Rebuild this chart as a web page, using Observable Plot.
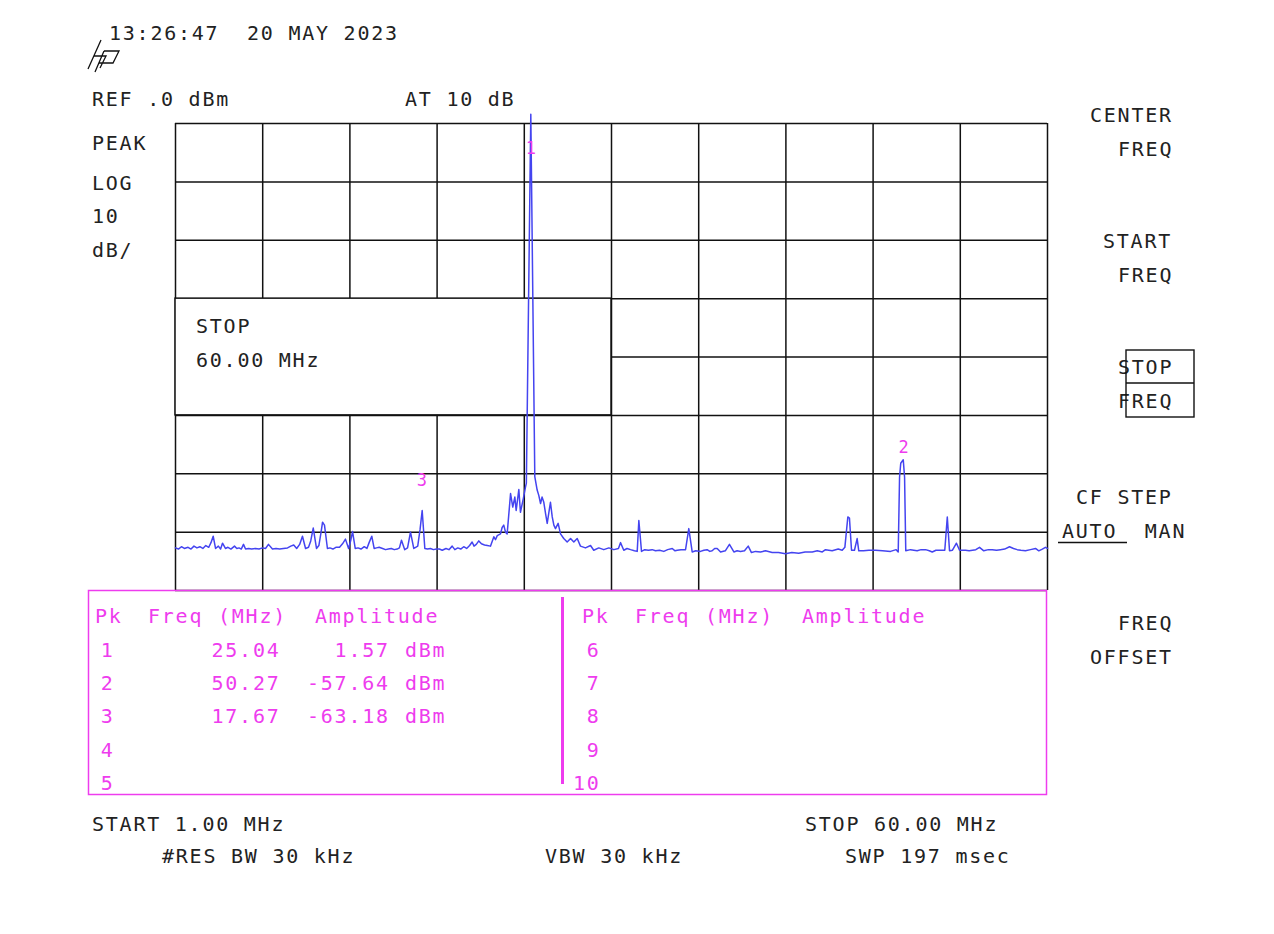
<!DOCTYPE html>
<html><head><meta charset="utf-8">
<script src="https://cdn.jsdelivr.net/npm/d3@7"></script>
<script src="https://cdn.jsdelivr.net/npm/@observablehq/plot@0.6"></script>
<style>
html,body{margin:0;padding:0;background:#fff;}
#chart{position:relative;width:1274px;height:934px;}
</style></head><body><div id="chart"></div>
<script>
// ---- data ----
const traceFreq = [1.00,1.20,1.40,1.60,1.85,2.05,2.25,2.45,2.65,2.85,3.05,3.25,3.40,3.55,3.71,3.90,4.05,4.18,4.38,4.55,4.75,4.99,5.15,5.30,5.45,5.60,5.74,5.95,6.15,6.40,6.65,6.90,7.09,7.29,7.56,7.80,8.05,8.30,8.58,8.80,9.00,9.20,9.40,9.59,9.80,10.00,10.15,10.32,10.54,10.70,10.85,10.95,11.08,11.28,11.45,11.65,11.85,12.10,12.30,12.50,12.71,12.85,12.98,13.16,13.35,13.55,13.77,13.95,14.10,14.28,14.44,14.60,14.78,15.01,15.21,15.40,15.60,15.80,16.00,16.15,16.29,16.51,16.70,16.90,17.12,17.25,17.39,17.55,17.69,17.87,18.05,18.25,18.45,18.65,18.85,19.05,19.30,19.50,19.72,19.90,20.10,20.30,20.50,20.70,20.90,21.07,21.20,21.35,21.52,21.70,21.91,22.10,22.31,22.54,22.65,22.77,22.99,23.10,23.21,23.33,23.44,23.67,23.82,23.96,24.05,24.23,24.34,24.53,24.68,24.74,25.04,25.31,25.47,25.58,25.70,25.80,25.92,26.05,26.15,26.30,26.37,26.49,26.60,26.71,26.89,27.05,27.27,27.50,27.73,27.95,28.18,28.40,28.74,29.08,29.30,29.64,29.98,30.32,30.66,30.97,31.11,31.33,31.55,31.79,32.05,32.24,32.35,32.53,32.75,33.00,33.25,33.48,33.75,34.04,34.30,34.61,34.80,34.95,35.20,35.51,35.73,35.96,36.20,36.52,36.75,36.97,37.15,37.31,37.48,37.65,37.88,38.20,38.48,38.78,39.00,39.23,39.50,39.75,39.97,40.25,40.58,40.92,41.37,41.80,42.27,42.70,43.17,43.60,44.08,44.42,44.76,44.98,45.20,45.43,45.84,46.11,46.29,46.49,46.60,46.74,46.94,47.12,47.23,47.55,47.91,48.36,48.84,49.38,49.76,49.90,49.99,50.07,50.24,50.33,50.41,50.73,51.18,51.45,51.75,52.00,52.20,52.45,52.80,53.05,53.22,53.37,53.57,53.84,54.05,54.45,54.70,54.93,55.15,55.40,55.69,56.00,56.26,56.55,56.82,57.10,57.43,57.70,57.95,58.20,58.51,58.85,59.19,59.41,59.65,59.86,60.00];
const traceAmp = [-72.7,-72.9,-72.5,-72.8,-72.6,-72.9,-72.4,-72.7,-72.5,-72.8,-72.3,-72.6,-71.8,-70.7,-72.8,-72.4,-72.9,-71.9,-72.8,-72.6,-72.9,-72.4,-72.8,-72.7,-72.9,-72.1,-72.9,-72.8,-72.9,-72.8,-72.9,-72.7,-72.8,-72.1,-72.9,-72.8,-72.9,-72.8,-72.7,-72.4,-72.2,-72.8,-72.1,-70.7,-72.8,-72.6,-71.5,-69.3,-72.8,-72.3,-70.0,-68.3,-68.8,-72.8,-72.7,-72.9,-72.6,-72.6,-72.0,-71.2,-72.8,-71.5,-69.9,-72.8,-72.7,-72.9,-72.5,-72.8,-71.8,-70.7,-72.8,-72.7,-72.6,-72.8,-73.0,-72.9,-72.8,-73.0,-72.9,-72.7,-71.4,-73.0,-72.7,-70.0,-72.8,-72.6,-72.4,-69.5,-66.3,-72.8,-72.9,-72.8,-73.0,-72.9,-72.9,-73.1,-72.8,-73.0,-72.4,-73.0,-72.7,-72.9,-72.5,-72.8,-72.3,-71.7,-72.4,-72.1,-71.5,-72.0,-72.2,-72.3,-72.4,-70.8,-71.3,-70.6,-70.3,-69.2,-68.8,-70.0,-70.3,-63.4,-65.7,-64.0,-66.3,-62.7,-66.6,-64.3,-62.3,-61.6,1.6,-60.5,-62.8,-63.7,-65.1,-64.0,-64.9,-67.0,-68.5,-66.0,-64.9,-67.4,-68.8,-69.4,-68.5,-70.3,-71.1,-71.7,-71.1,-71.7,-71.1,-72.4,-72.7,-72.3,-73.1,-72.7,-73.0,-72.7,-73.0,-72.8,-71.8,-73.1,-72.8,-73.0,-73.2,-73.3,-68.0,-73.3,-73.0,-73.1,-73.0,-73.2,-73.1,-73.3,-73.0,-72.8,-73.2,-73.1,-73.0,-73.0,-69.4,-73.4,-73.2,-73.3,-73.1,-73.0,-73.3,-73.2,-72.8,-72.8,-73.4,-73.2,-72.1,-73.4,-73.2,-73.3,-73.2,-72.4,-73.5,-73.3,-73.4,-73.2,-73.5,-73.5,-73.7,-73.5,-73.6,-73.4,-73.4,-73.2,-73.4,-73.0,-73.1,-73.2,-72.9,-73.1,-72.6,-67.4,-67.6,-73.1,-73.1,-71.1,-73.2,-73.2,-73.1,-73.1,-73.2,-73.3,-73.0,-73.4,-60.6,-58.2,-57.6,-60.6,-73.2,-73.0,-73.2,-73.0,-73.0,-73.2,-73.4,-73.1,-73.1,-73.1,-67.4,-73.2,-73.1,-71.9,-73.1,-73.1,-73.2,-73.1,-73.0,-72.6,-73.2,-73.0,-73.0,-73.1,-73.0,-72.9,-72.5,-72.8,-73.0,-73.1,-73.2,-73.0,-72.8,-73.2,-72.9,-72.6,-72.8];

const markerNum  = [1, 2, 3];
const markerFreq = [25.04, 50.27, 17.67];
const markerAmp  = [1.57, -57.64, -63.18];

const freqDivisions = [1, 6.9, 12.8, 18.7, 24.6, 30.5, 36.4, 42.3, 48.2, 54.1, 60];
const ampDivisions  = [0, -10, -20, -30, -40, -50, -60, -70, -80];

// annotation window on the screen (STOP 60.00 MHz)
const windowFreq = [1, 30.5];
const windowAmp  = [-50, -30];

const headerTexts = ["13:26:47  20 MAY 2023", "REF .0 dBm", "AT 10 dB", "PEAK", "LOG", "10", "dB/"];
const softkeyTexts = ["CENTER", "FREQ", "START", "FREQ", "STOP", "FREQ", "CF STEP", "AUTO  MAN", "FREQ", "OFFSET"];
const footerTexts = ["START 1.00 MHz", "#RES BW 30 kHz", "VBW 30 kHz", "STOP 60.00 MHz", "SWP 197 msec"];
const windowTexts = ["STOP", "60.00 MHz"];
const tableHeader = ["Pk", "Freq", "(MHz)", "Amplitude"];

// ---- build ----
const trace = traceFreq.map((f, i) => ({f, a: traceAmp[i]}));
const markers = markerNum.map((n, i) => ({n, f: markerFreq[i], a: markerAmp[i]}));
const MAG = "#ee3cee", INK = "#111111", TXT = "#222222", BLUE = "#4444f0";

const plot = Plot.plot({
  width: 1274, height: 934,
  marginLeft: 175, marginRight: 227, marginTop: 123, marginBottom: 344,
  x: {domain: [1, 60], axis: null},
  y: {domain: [-80, 0], axis: null},
  style: {background: "white", overflow: "visible"},
  marks: [
    Plot.ruleX(freqDivisions, {y1: -80, y2: 0, stroke: INK, strokeWidth: 1.5}),
    Plot.ruleY(ampDivisions, {x1: 1, x2: 60, stroke: INK, strokeWidth: 1.5}),
    Plot.rect([{x1: windowFreq[0], x2: windowFreq[1], y1: windowAmp[0], y2: windowAmp[1]}],
      {x1: "x1", x2: "x2", y1: "y1", y2: "y2", fill: "white", stroke: INK, strokeWidth: 1.5}),
    Plot.line(trace, {x: "f", y: "a", stroke: BLUE, strokeWidth: 1.5, curve: "linear"}),
    Plot.text(markers, {x: "f", y: d => Math.min(d.a, -6.3), text: d => String(d.n), dy: -12,
      fill: MAG, fontSize: 17, fontFamily: "DejaVu Sans Mono"})
  ]
});
document.getElementById("chart").appendChild(plot);

const svg = d3.select(plot);
const FONT = "font-family:'DejaVu Sans Mono',monospace;font-size:20px;letter-spacing:1.76px;white-space:pre;text-anchor:start;";
const PITCH = 13.8;
function txt(s, x, y, color) {
  svg.append("text").attr("x", x).attr("y", y).attr("text-anchor", "start")
    .attr("style", FONT + "fill:" + (color || TXT) + ";")
    .text(s);
}

// hp logo
svg.append("path")
  .attr("d", "M88,69 L101,40 M94,56 L106,56 L100,68 M104,51 L119,51 L113,63 L99,63 M104,51 L95,72")
  .attr("fill", "none").attr("stroke", INK).attr("stroke-width", 1.3);

// header
const hdrPos = [[109, 40], [92, 106], [405, 106], [92, 150], [92, 190], [92, 223], [92, 257]];
headerTexts.forEach((s, i) => txt(s, hdrPos[i][0], hdrPos[i][1]));

// softkeys
const skPos = [[1090, 122], [1118, 156], [1103, 248], [1118, 282], [1118, 374], [1118, 408], [1076, 504], [1062, 538], [1118, 630], [1090, 664]];
softkeyTexts.forEach((s, i) => txt(s, skPos[i][0], skPos[i][1]));
svg.append("rect").attr("x", 1126).attr("y", 350).attr("width", 68).attr("height", 67)
  .attr("fill", "none").attr("stroke", INK).attr("stroke-width", 1.4);
svg.append("line").attr("x1", 1126).attr("x2", 1194).attr("y1", 383).attr("y2", 383)
  .attr("stroke", INK).attr("stroke-width", 1.4);
svg.append("line").attr("x1", 1058).attr("x2", 1127).attr("y1", 542.5).attr("y2", 542.5)
  .attr("stroke", INK).attr("stroke-width", 1.3);

// window text
txt(windowTexts[0], 196, 333);
txt(windowTexts[1], 196, 367);

// footer
const ftPos = [[92, 831], [162, 863], [545, 863], [805, 831], [845, 863]];
footerTexts.forEach((s, i) => txt(s, ftPos[i][0], ftPos[i][1]));

// marker table
svg.append("rect").attr("x", 88.5).attr("y", 590.5).attr("width", 958).attr("height", 204)
  .attr("fill", "none").attr("stroke", MAG).attr("stroke-width", 1.5);
svg.append("line").attr("x1", 562.5).attr("x2", 562.5).attr("y1", 597).attr("y2", 784)
  .attr("stroke", MAG).attr("stroke-width", 3);
const hdrX = [95, 148, 218, 315];
tableHeader.forEach((s, i) => { txt(s, hdrX[i], 623, MAG); txt(s, hdrX[i] + 487, 623, MAG); });
const rowY = [656.7, 690, 723.3, 756.7, 790];
for (let k = 0; k < 10; k++) {
  const label = String(k + 1);
  const rightCol = k >= 5;
  const y = rowY[k % 5];
  const endX = rightCol ? 586.7 : 100.7;
  txt(label, endX - (label.length - 1) * PITCH, y, MAG);
  const m = markers.find(d => d.n === k + 1);
  if (m) {
    const fs = m.f.toFixed(2), as = m.a.toFixed(2);
    txt(fs, 276.7 - 10 - (fs.length - 1) * PITCH, y, MAG);
    txt(as, 386 - 10 - (as.length - 1) * PITCH, y, MAG);
    txt("dBm", 405, y, MAG);
  }
}
</script></body></html>
